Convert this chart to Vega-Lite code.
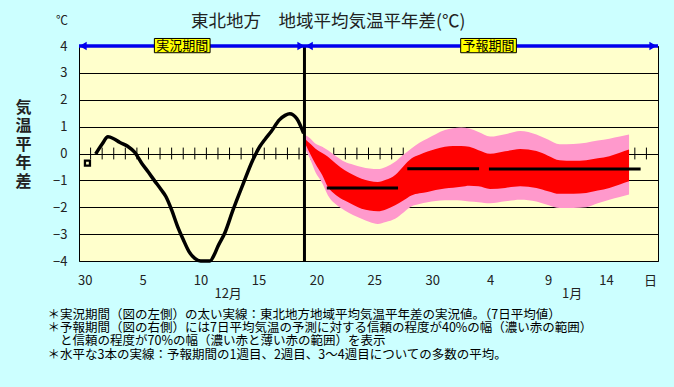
{
  "$schema": "https://vega.github.io/schema/vega-lite/v6.json",
  "width": 579,
  "height": 215,
  "autosize": {"type": "none"},
  "padding": {"left": 79, "top": 46, "right": 16, "bottom": 126},
  "background": "#ccffff",
  "view": {"fill": "#ffffcc", "stroke": "#000000", "strokeWidth": 1},
  "config": {"font": "Noto Sans CJK JP"},
  "datasets": {
    "ticks": [
      {"d": 0.5}, {"d": 1.5}, {"d": 2.5}, {"d": 3.5}, {"d": 4.5}, {"d": 5.5}, {"d": 6.5}, {"d": 7.5}, {"d": 8.5}, {"d": 9.5},
      {"d": 10.5}, {"d": 11.5}, {"d": 12.5}, {"d": 13.5}, {"d": 14.5}, {"d": 15.5}, {"d": 16.5}, {"d": 17.5}, {"d": 18.5}, {"d": 19.5},
      {"d": 20.5}, {"d": 21.5}, {"d": 22.5}, {"d": 23.5}, {"d": 24.5}, {"d": 25.5}, {"d": 26.5}, {"d": 27.5}, {"d": 28.5}, {"d": 29.5},
      {"d": 30.5}, {"d": 31.5}, {"d": 32.5}, {"d": 33.5}, {"d": 34.5}, {"d": 35.5}, {"d": 36.5}, {"d": 37.5}, {"d": 38.5}, {"d": 39.5},
      {"d": 40.5}, {"d": 41.5}, {"d": 42.5}, {"d": 43.5}, {"d": 44.5}, {"d": 45.5}, {"d": 46.5}, {"d": 47.5}, {"d": 48.5}
    ],
    "band": [
      {"d": 19.0, "phi": 0.7, "rhi": 0.55, "rlo": 0.4, "plo": 0.2},
      {"d": 19.5, "phi": 0.55, "rhi": 0.35, "rlo": -0.05, "plo": -0.25},
      {"d": 19.9, "phi": 0.37, "rhi": 0.19, "rlo": -0.37, "plo": -0.68},
      {"d": 20.5, "phi": 0.25, "rhi": 0.02, "rlo": -0.8, "plo": -1.1},
      {"d": 21.0, "phi": 0.12, "rhi": -0.12, "rlo": -1.25, "plo": -1.56},
      {"d": 21.7, "phi": -0.1, "rhi": -0.38, "rlo": -1.55, "plo": -1.9},
      {"d": 22.45, "phi": -0.31, "rhi": -0.62, "rlo": -1.75, "plo": -2.12},
      {"d": 23.2, "phi": -0.42, "rhi": -0.8, "rlo": -1.92, "plo": -2.3},
      {"d": 23.9, "phi": -0.5, "rhi": -0.94, "rlo": -2.06, "plo": -2.43},
      {"d": 24.6, "phi": -0.56, "rhi": -1.02, "rlo": -2.12, "plo": -2.55},
      {"d": 25.3, "phi": -0.58, "rhi": -1.06, "rlo": -2.15, "plo": -2.62},
      {"d": 26.0, "phi": -0.5, "rhi": -0.98, "rlo": -2.08, "plo": -2.55},
      {"d": 26.8, "phi": -0.31, "rhi": -0.8, "rlo": -1.93, "plo": -2.43},
      {"d": 27.5, "phi": -0.05, "rhi": -0.48, "rlo": -1.75, "plo": -2.2},
      {"d": 28.2, "phi": 0.19, "rhi": -0.19, "rlo": -1.56, "plo": -1.97},
      {"d": 28.9, "phi": 0.4, "rhi": -0.05, "rlo": -1.48, "plo": -1.88},
      {"d": 29.6, "phi": 0.56, "rhi": 0.07, "rlo": -1.43, "plo": -1.81},
      {"d": 30.3, "phi": 0.72, "rhi": 0.17, "rlo": -1.36, "plo": -1.77},
      {"d": 31.1, "phi": 0.87, "rhi": 0.25, "rlo": -1.3, "plo": -1.74},
      {"d": 31.8, "phi": 0.94, "rhi": 0.28, "rlo": -1.27, "plo": -1.74},
      {"d": 32.5, "phi": 0.97, "rhi": 0.28, "rlo": -1.24, "plo": -1.75},
      {"d": 33.2, "phi": 0.93, "rhi": 0.25, "rlo": -1.2, "plo": -1.79},
      {"d": 34.0, "phi": 0.8, "rhi": 0.12, "rlo": -1.22, "plo": -1.81},
      {"d": 35.0, "phi": 0.63, "rhi": -0.01, "rlo": -1.32, "plo": -1.85},
      {"d": 36.3, "phi": 0.72, "rhi": 0.08, "rlo": -1.28, "plo": -1.78},
      {"d": 37.6, "phi": 0.84, "rhi": 0.17, "rlo": -1.22, "plo": -1.72},
      {"d": 39.0, "phi": 0.71, "rhi": 0.09, "rlo": -1.28, "plo": -1.79},
      {"d": 40.0, "phi": 0.52, "rhi": -0.08, "rlo": -1.4, "plo": -1.92},
      {"d": 41.0, "phi": 0.34, "rhi": -0.25, "rlo": -1.5, "plo": -2.03},
      {"d": 42.2, "phi": 0.35, "rhi": -0.27, "rlo": -1.5, "plo": -2.03},
      {"d": 43.3, "phi": 0.4, "rhi": -0.25, "rlo": -1.47, "plo": -2.0},
      {"d": 44.3, "phi": 0.48, "rhi": -0.18, "rlo": -1.38, "plo": -1.85},
      {"d": 45.3, "phi": 0.55, "rhi": -0.1, "rlo": -1.28, "plo": -1.72},
      {"d": 46.2, "phi": 0.63, "rhi": 0.03, "rlo": -1.15, "plo": -1.62},
      {"d": 47.0, "phi": 0.71, "rhi": 0.15, "rlo": -1.03, "plo": -1.53}
    ],
    "weeks": [
      {"d": 20.9, "d2": 27.05, "v": -1.28},
      {"d": 27.85, "d2": 34.05, "v": -0.57},
      {"d": 34.9, "d2": 48.0, "v": -0.58}
    ],
    "obs": [
      {"d": 0.94, "v": -0.02},
      {"d": 1.5, "v": 0.35},
      {"d": 2.0, "v": 0.62},
      {"d": 2.5, "v": 0.55},
      {"d": 3.0, "v": 0.42},
      {"d": 3.7, "v": 0.27},
      {"d": 4.3, "v": 0.05},
      {"d": 4.9, "v": -0.35},
      {"d": 5.5, "v": -0.7},
      {"d": 6.0, "v": -1.0},
      {"d": 6.6, "v": -1.35},
      {"d": 7.0, "v": -1.6},
      {"d": 7.5, "v": -2.1},
      {"d": 8.0, "v": -2.7},
      {"d": 8.5, "v": -3.2},
      {"d": 9.0, "v": -3.65},
      {"d": 9.5, "v": -3.9},
      {"d": 10.0, "v": -4.0},
      {"d": 10.8, "v": -4.0},
      {"d": 11.2, "v": -3.75},
      {"d": 11.5, "v": -3.45},
      {"d": 12.1, "v": -2.95},
      {"d": 12.8, "v": -2.1},
      {"d": 13.7, "v": -1.1},
      {"d": 14.5, "v": -0.25},
      {"d": 15.1, "v": 0.25},
      {"d": 15.6, "v": 0.55},
      {"d": 16.1, "v": 0.82},
      {"d": 16.8, "v": 1.25},
      {"d": 17.3, "v": 1.42},
      {"d": 17.7, "v": 1.48},
      {"d": 18.3, "v": 1.3},
      {"d": 18.9, "v": 0.75}
    ]
  },
  "layer": [
    {
      "data": {"name": "obs"},
      "mark": {"type": "line", "opacity": 0, "strokeWidth": 0},
      "encoding": {
        "x": {
          "field": "d", "type": "quantitative",
          "scale": {"domain": [-0.5, 49.5], "nice": false, "zero": false},
          "axis": {
            "values": [0, 5, 10, 15, 20, 25, 30, 35, 40, 45, 48.8], "tickCount": 20,
            "labelExpr": "datum.value == 48.8 ? '日' : datum.value == 0 ? '30' : datum.value <= 31 ? '' + datum.value : '' + (datum.value - 31)",
            "grid": false, "domain": false, "ticks": false, "tickSize": 0,
            "labelPadding": 13, "labelFontSize": 13, "labelColor": "#222222",
            "labelFlush": false, "labelOverlap": false,
            "title": [
              "＊実況期間（図の左側）の太い実線：東北地方地域平均気温平年差の実況値。（7日平均値）",
              "＊予報期間（図の右側）には7日平均気温の予測に対する信頼の程度が40%の幅（濃い赤の範囲）",
              "\u200b\u3000と信頼の程度が70%の幅（濃い赤と薄い赤の範囲）を表示",
              "＊水平な3本の実線：予報期間の1週目、2週目、3〜4週目についての多数の平均。"
            ],
            "titleX": -32, "titleY": 47, "titleAlign": "left", "titleBaseline": "top",
            "titleFontSize": 12.5, "titleFontWeight": "normal", "titleColor": "#000000",
            "titleLineHeight": 13.4
          }
        },
        "y": {
          "field": "v", "type": "quantitative",
          "scale": {"domain": [-4, 4], "nice": false, "zero": false},
          "axis": {
            "values": [-4, -3, -2, -1, 0, 1, 2, 3, 4], "tickCount": 12, "format": "d",
            "grid": true, "gridColor": "#000000", "gridWidth": 1, "gridOpacity": 1,
            "domain": false, "ticks": false, "tickSize": 0,
            "labelPadding": 12, "labelFontSize": 13, "labelColor": "#222222",
            "labelFlush": false, "labelOverlap": false,
            "title": ["気", "温", "平", "年", "差"],
            "titleAngle": 0, "titleFontSize": 16, "titleFontWeight": "bold",
            "titleX": -56, "titleY": 61, "titleAlign": "center", "titleBaseline": "middle",
            "titleLineHeight": 18.5, "titleColor": "#222222"
          }
        }
      }
    },
    {
      "data": {"name": "ticks"},
      "mark": {"type": "rule", "color": "#000000", "strokeWidth": 1},
      "encoding": {
        "x": {"field": "d", "type": "quantitative"},
        "y": {"datum": -0.22},
        "y2": {"datum": 0.22}
      }
    },
    {
      "data": {"name": "band"},
      "mark": {"type": "area", "color": "#ff99cc", "interpolate": "monotone"},
      "encoding": {
        "x": {"field": "d", "type": "quantitative"},
        "y": {"field": "plo", "type": "quantitative"},
        "y2": {"field": "phi"}
      }
    },
    {
      "data": {"name": "band"},
      "mark": {"type": "area", "color": "#ff0000", "interpolate": "monotone"},
      "encoding": {
        "x": {"field": "d", "type": "quantitative"},
        "y": {"field": "rlo", "type": "quantitative"},
        "y2": {"field": "rhi"}
      }
    },
    {
      "data": {"name": "weeks"},
      "mark": {"type": "rule", "color": "#000000", "strokeWidth": 3},
      "encoding": {
        "x": {"field": "d", "type": "quantitative"},
        "x2": {"field": "d2"},
        "y": {"field": "v", "type": "quantitative"}
      }
    },
    {
      "data": {"name": "obs"},
      "mark": {"type": "line", "color": "#000000", "strokeWidth": 3.5, "interpolate": "monotone"},
      "encoding": {
        "x": {"field": "d", "type": "quantitative"},
        "y": {"field": "v", "type": "quantitative"}
      }
    },
    {
      "data": {"values": [{"d": 0.23, "v": -0.36}]},
      "mark": {"type": "point", "shape": "square", "filled": false, "stroke": "#000000", "strokeWidth": 2.3, "size": 25, "opacity": 1},
      "encoding": {
        "x": {"field": "d", "type": "quantitative"},
        "y": {"field": "v", "type": "quantitative"}
      }
    },
    {
      "data": {"values": [{}]},
      "mark": {"type": "rule", "color": "#000000", "strokeWidth": 3},
      "encoding": {
        "x": {"datum": 18.97},
        "y": {"datum": -4},
        "y2": {"datum": 4}
      }
    },
    {
      "data": {"values": [{}]},
      "mark": {"type": "rule", "color": "#0000ee", "strokeWidth": 3.5},
      "encoding": {
        "x": {"datum": -0.5},
        "x2": {"datum": 49.5},
        "y": {"datum": 4}
      }
    },
    {
      "data": {"values": [{}]},
      "mark": {"type": "point", "shape": "triangle-left", "filled": true, "color": "#0000ee", "size": 70, "opacity": 1},
      "encoding": {"x": {"datum": -0.15}, "y": {"datum": 4}}
    },
    {
      "data": {"values": [{}]},
      "mark": {"type": "point", "shape": "triangle-right", "filled": true, "color": "#0000ee", "size": 70, "opacity": 1},
      "encoding": {"x": {"datum": 18.67}, "y": {"datum": 4}}
    },
    {
      "data": {"values": [{}]},
      "mark": {"type": "point", "shape": "triangle-left", "filled": true, "color": "#0000ee", "size": 70, "opacity": 1},
      "encoding": {"x": {"datum": 19.38}, "y": {"datum": 4}}
    },
    {
      "data": {"values": [{}]},
      "mark": {"type": "point", "shape": "triangle-right", "filled": true, "color": "#0000ee", "size": 70, "opacity": 1},
      "encoding": {"x": {"datum": 49.07}, "y": {"datum": 4}}
    },
    {
      "data": {"values": [{}]},
      "mark": {"type": "rect", "fill": "#ffff00", "stroke": "#000000", "strokeWidth": 1},
      "encoding": {"x": {"datum": 6.01}, "x2": {"datum": 10.82}, "y": {"datum": 4.28}, "y2": {"datum": 3.75}}
    },
    {
      "data": {"values": [{}]},
      "mark": {"type": "rect", "fill": "#ffff00", "stroke": "#000000", "strokeWidth": 1},
      "encoding": {"x": {"datum": 32.46}, "x2": {"datum": 37.27}, "y": {"datum": 4.28}, "y2": {"datum": 3.75}}
    },
    {
      "data": {"values": [{"label": "実況期間"}]},
      "mark": {"type": "text", "fontSize": 13, "color": "#000000", "baseline": "middle", "align": "center"},
      "encoding": {"x": {"datum": 8.41}, "y": {"datum": 4.01}, "text": {"field": "label"}}
    },
    {
      "data": {"values": [{"label": "予報期間"}]},
      "mark": {"type": "text", "fontSize": 13, "color": "#000000", "baseline": "middle", "align": "center"},
      "encoding": {"x": {"datum": 34.86}, "y": {"datum": 4.01}, "text": {"field": "label"}}
    },
    {
      "data": {"values": [{"label": "12月"}]},
      "mark": {"type": "text", "fontSize": 13, "color": "#222222", "baseline": "middle", "align": "center"},
      "encoding": {"x": {"datum": 12.38}, "y": {"datum": -5.23}, "text": {"field": "label"}}
    },
    {
      "data": {"values": [{"label": "1月"}]},
      "mark": {"type": "text", "fontSize": 13, "color": "#222222", "baseline": "middle", "align": "center"},
      "encoding": {"x": {"datum": 42.08}, "y": {"datum": -5.23}, "text": {"field": "label"}}
    },
    {
      "data": {"values": [{"label": "℃"}]},
      "mark": {"type": "text", "fontSize": 12, "color": "#222222", "baseline": "middle", "align": "center"},
      "encoding": {"x": {"datum": -1.97}, "y": {"datum": 4.93}, "text": {"field": "label"}}
    },
    {
      "data": {"values": [{"label": "東北地方　地域平均気温平年差(℃)"}]},
      "mark": {"type": "text", "fontSize": 17.5, "color": "#222222", "baseline": "middle", "align": "center"},
      "encoding": {"x": {"datum": 21.02}, "y": {"datum": 4.89}, "text": {"field": "label"}}
    }
  ]
}
